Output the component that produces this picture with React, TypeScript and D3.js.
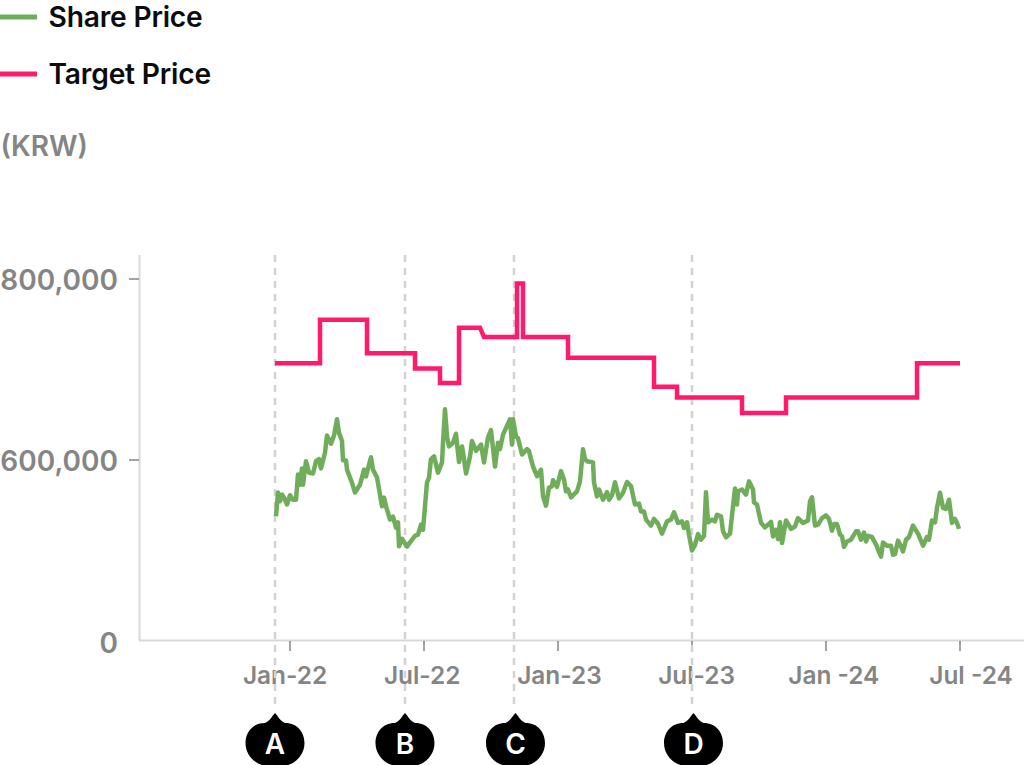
import React from "react";
import * as d3 from "d3";

// trading sessions since the start of the series
const shareDays = [1,3,5,7,9,12,15,18,21,23,25,27,28,31,34,38,41,44,46,50,52,56,59,62,64,67,68,71,72,77,80,85,89,91,93,96,98,102,107,109,111,115,118,121,123,124,127,132,135,140,143,146,148,152,154,156,159,163,167,168,170,172,174,178,181,184,187,189,191,195,197,201,206,209,213,216,220,223,225,228,235,237,238,241,243,247,252,254,256,258,262,266,268,271,274,277,278,282,286,289,291,293,296,302,305,308,310,312,318,319,322,324,328,332,334,337,340,344,348,352,356,360,364,366,369,371,376,379,383,387,392,396,399,403,407,409,412,414,417,420,423,426,429,431,433,437,440,442,446,448,451,455,458,460,462,463,467,471,474,478,479,482,486,490,496,498,501,503,505,507,511,516,520,523,528,533,535,537,540,543,547,551,554,557,559,562,565,567,569,572,576,581,583,586,589,591,593,597,602,603,606,608,612,616,618,620,623,626,628,631,634,638,643,648,652,654,657,660,662,665,668,671,674,677,680,682,684];
// KRW, thousands
const sharePrices = [413,492,463,485,475,452,483,468,468,552,518,572,518,596,558,555,596,601,572,608,627,618,627,645,630,621,599,598,568,524,492,518,568,545,572,603,568,542,446,475,446,402,412,375,393,313,338,312,326,348,352,385,368,525,542,601,604,558,592,619,656,626,615,619,629,593,615,601,555,604,621,610,617,592,625,633,578,619,612,628,645,617,645,626,624,606,612,610,601,579,546,568,479,448,508,513,533,511,563,535,496,502,476,496,529,612,601,596,592,525,479,502,468,493,468,483,526,472,491,527,513,452,455,429,429,402,382,404,388,355,396,402,426,391,396,374,393,352,299,318,354,335,348,493,393,402,396,418,413,363,343,355,446,505,452,496,502,485,529,502,459,452,391,376,394,346,368,337,393,324,399,371,379,407,391,399,463,476,382,385,407,416,404,365,387,387,352,346,311,329,335,363,363,335,359,329,348,344,313,302,279,326,315,315,285,287,332,313,296,335,344,382,355,315,344,335,399,393,441,491,441,437,468,391,404,391,371];

const targetDays = [0,45,45,92,92,140,140,165,165,184,184,205,209,242,242,248,248,293,293,379,379,402,402,467,467,511,511,642,642,685];
const targetPrices = [707,707,755,755,718,718,701,701,685,685,746,746,736,736,795,795,736,736,713,713,681,681,669,669,652,652,669,669,707,707];

const xTickDays = [15,149,283,417,551,685];
const xTickLabels = ["Jan-22","Jul-22","Jan-23","Jul-23","Jan -24","Jul -24"];
const yTicks = [0,600,800];
const markerLabels = ["A","B","C","D"];
const markerDays = [0,130,239,417];
const badgeDays = [0,130,240.5,418.5];
const legendLabels = ["Share Price","Target Price"];
const legendColors = ["#6fad5b","#ff1a6e"];

const WIDTH = 1024;
const HEIGHT = 765;
const FONT = "Inter, sans-serif";
const GREY = "#858585";

export default function App() {
  const x = d3.scaleLinear().domain([0, 685]).range([275, 960]);
  // the axis gives each labelled step the same height
  const y = d3.scaleLinear().domain(yTicks).range([640.5, 460, 279]);
  const labelX = d3.scalePoint<string>().domain(xTickLabels).range([285, 971]);
  const line = d3.line<number>().x(d => x(d)).curve(d3.curveLinear);

  const shareLine = line.y((_, i) => y(sharePrices[i]))(shareDays);
  const targetLine = line.y((_, i) => y(targetPrices[i]))(targetDays);

  return (
    <svg width={WIDTH} height={HEIGHT} viewBox={`0 0 ${WIDTH} ${HEIGHT}`}
      style={{ position: "absolute", left: 0, top: 0, fontFamily: FONT }}>
      {legendLabels.map((d, i) => (
        <g key={d} transform={`translate(0 ${17 + i * 57})`}>
          <line x1={-2} x2={37} stroke={legendColors[i]} strokeWidth={5} />
          <text x={48.5} y={10} fontSize={28.2} fontWeight={600} fill="#0c0c0c" letterSpacing={-0.2}>{d}</text>
        </g>
      ))}
      <text x={0.5} y={156} fontSize={28} fontWeight={600} fill={GREY}>(KRW)</text>

      <line x1={139.5} x2={139.5} y1={255} y2={640.5} stroke="#d9d9d9" strokeWidth={2} />
      <line x1={139} x2={1024} y1={640.5} y2={640.5} stroke="#d9d9d9" strokeWidth={2} />

      {yTicks.map(d => (
        <g key={d} transform={`translate(0 ${y(d)})`}>
          {d > 0 && <line x1={129} x2={139} stroke={GREY} strokeWidth={1.5} />}
          <text x={118} y={d > 0 ? 11 : 12} textAnchor="end" fontSize={28} fontWeight={600} fill={GREY}>
            {d3.format(",")(d * 1000)}
          </text>
        </g>
      ))}
      {xTickDays.map((d, i) => (
        <g key={d}>
          <line x1={x(d)} x2={x(d)} y1={641} y2={651} stroke={GREY} strokeWidth={1.5} />
          <text x={labelX(xTickLabels[i])} y={684} textAnchor="middle" fontSize={24.4} fontWeight={600} fill={GREY}>
            {xTickLabels[i]}
          </text>
        </g>
      ))}

      {markerDays.map(d => (
        <line key={d} x1={x(d)} x2={x(d)} y1={255} y2={710} stroke="#d2d2d2" strokeWidth={2.5} strokeDasharray="7 6" />
      ))}

      <path d={shareLine ?? ""} fill="none" stroke={legendColors[0]} strokeWidth={4.5} strokeLinejoin="round" />
      <path d={targetLine ?? ""} fill="none" stroke={legendColors[1]} strokeWidth={4.5} strokeLinejoin="miter" />

      {badgeDays.map((d, i) => (
        <g key={markerLabels[i]} transform={`translate(${x(d)} 0)`}>
          <path
            d="M0,713 C3,716 5,721 10,723 C23,723 29.5,733 29.5,743 C29.5,755 20,765 8,766 L-8,766 C-20,765 -29.5,755 -29.5,743 C-29.5,733 -23,723 -10,723 C-5,721 -3,716 0,713 Z"
            fill="#000000"
          />
          <text y={753.5} textAnchor="middle" fontSize={28} fontWeight={600} fill="#ffffff">{markerLabels[i]}</text>
        </g>
      ))}
    </svg>
  );
}
